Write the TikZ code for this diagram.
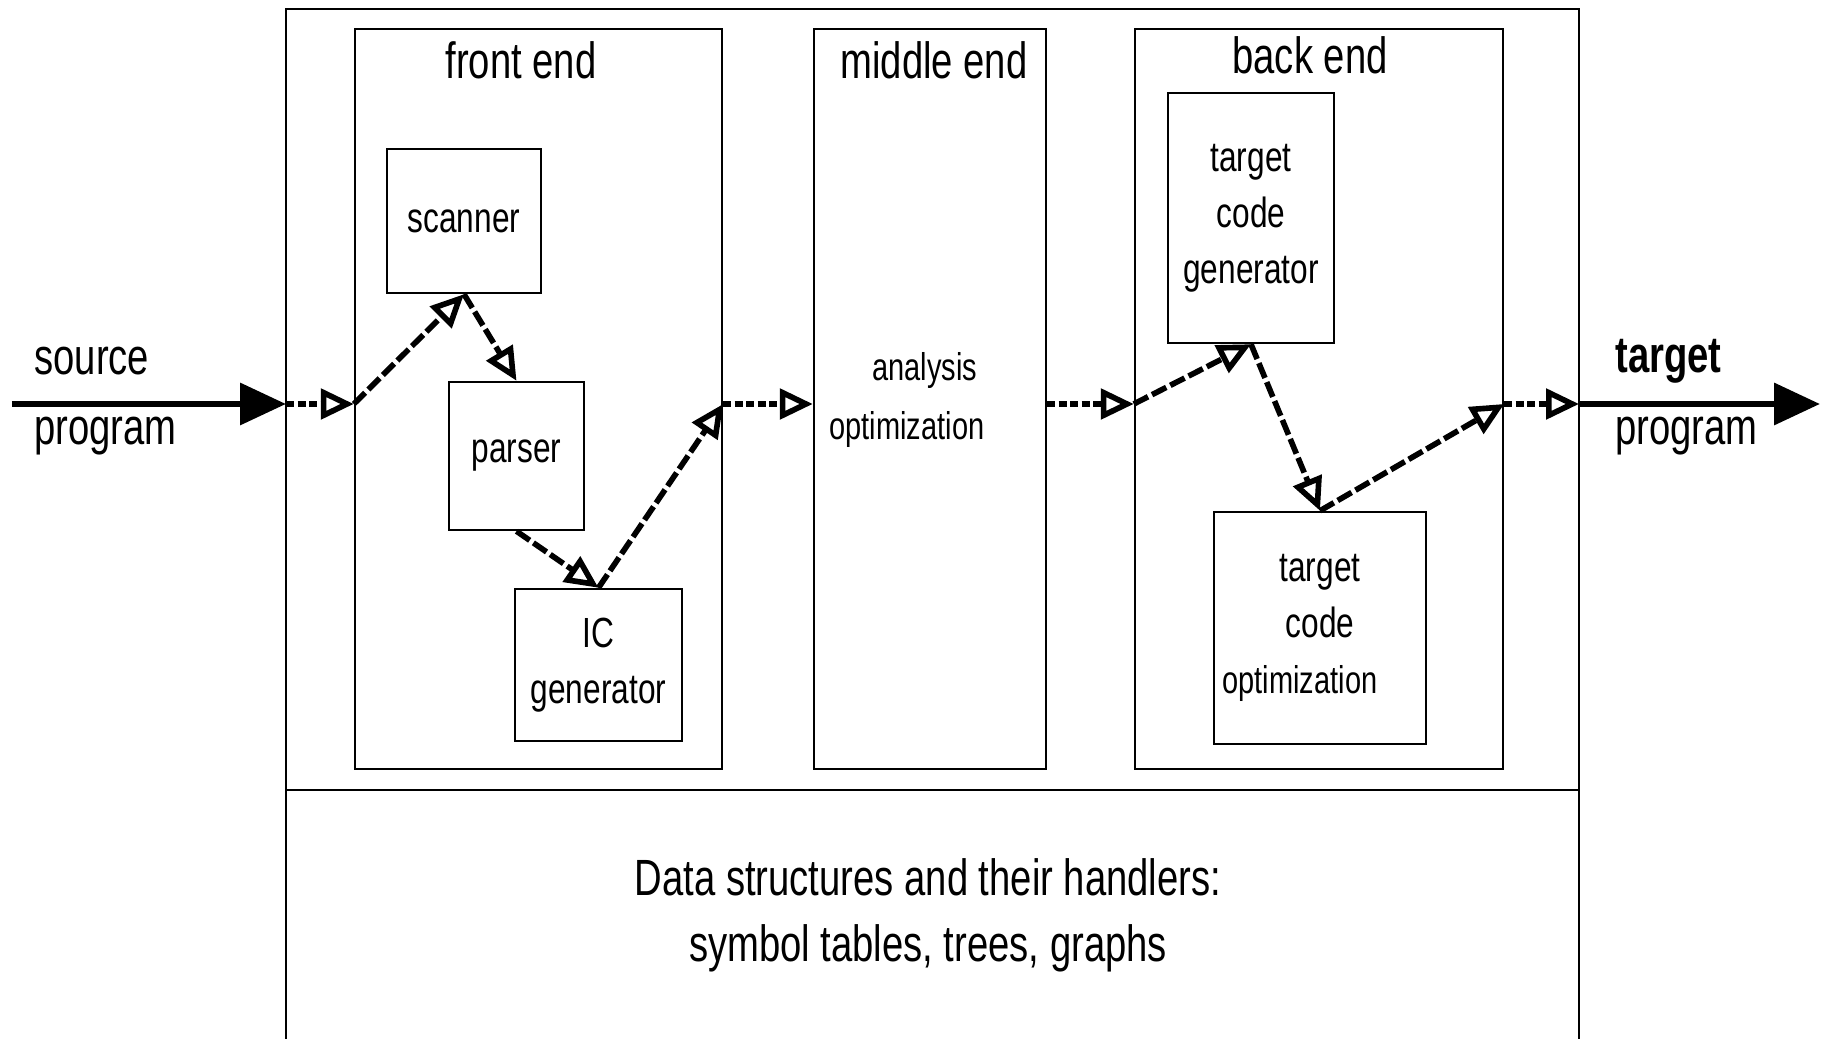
\documentclass[tikz,border=0pt]{standalone}
\usepackage{fontspec}
\setmainfont{Liberation Sans}[FakeStretch = 0.75]
\usepackage{tikz}
\usetikzlibrary{arrows.meta}

\tikzset{
	frame/.style = {line width = 0.8pt},
	stage/.style = {draw, line width = 0.7pt, inner sep = 0pt, align = center},
	title/.style = {font = \fontsize{14.5}{17}\selectfont},
	part/.style = {font = \fontsize{12}{16}\selectfont},
	small/.style = {font = \fontsize{11}{16}\selectfont},
	pass/.style = {line width = 1.6pt, dash pattern = on 1.6mm off 0.45mm, -{Triangle[open, length = 3.3mm, width = 3mm]}},
	hop/.style = {line width = 1.6pt, dash pattern = on 0.8mm off 0.35mm, -{Triangle[open, length = 3.3mm, width = 3mm]}},
	io/.style = {line width = 1.9pt, -{Triangle[length = 4.6mm, width = 4.1mm]}}
}

\begin{document}
\begin{tikzpicture}
	\useasboundingbox (0, 0) rectangle (18.24, 10.39);
	\draw[frame] (2.86, 0) -- (2.86, 10.30) -- (15.79, 10.30) -- (15.79, 0);
	\draw[frame] (2.86, 2.49) -- (15.79, 2.49);

	\node[stage, minimum width = 3.67cm, minimum height = 7.40cm] (front) at (5.385, 6.40) {};
	\node[stage, minimum width = 2.32cm, minimum height = 7.40cm] (middle) at (9.30, 6.40) {};
	\node[stage, minimum width = 3.68cm, minimum height = 7.40cm] (back) at (13.19, 6.40) {};
	\node[title] (fronttitle) at (5.21, 9.79) {front end};
	\node[title] (middletitle) at (9.34, 9.79) {middle end};
	\node[title] (backtitle) at (13.10, 9.84) {back end};

	\node[stage, part, minimum width = 1.54cm, minimum height = 1.44cm] (scanner) at (4.64, 8.18) {scanner};
	\node[stage, part, minimum width = 1.35cm, minimum height = 1.48cm] (parser) at (5.165, 5.83) {parser};
	\node[stage, part, minimum width = 1.67cm, minimum height = 1.52cm] (icgen) at (5.985, 3.74) {IC\\generator};
	\node[stage, part, minimum width = 1.66cm, minimum height = 2.50cm] (tcgen) at (12.51, 8.21) {target\\code\\generator};
	\node[stage, part, minimum width = 2.12cm, minimum height = 2.32cm] (tcopt) at (13.20, 4.11) {target\\code\\{\fontsize{11}{16}\selectfont optimization\hspace*{0.4cm}}};

	\node[small] (analysis) at (9.25, 6.68) {analysis};
	\node[small] (optim) at (9.07, 6.09) {optimization};

	\node[title, align = center, font = \fontsize{14.5}{18.7}\selectfont] (datatext) at (9.28, 1.24) {Data structures and their handlers:\\symbol tables, trees, graphs};

	\node[title, anchor = west] (srctop) at (0.22, 6.78) {source};
	\node[title, anchor = west] (srcbot) at (0.22, 6.03) {program};
	\node[title, anchor = west, font = \fontsize{14.5}{17}\selectfont\bfseries] (tgttop) at (16.03, 6.78) {target};
	\node[title, anchor = west] (tgtbot) at (16.03, 6.03) {program};

	\coordinate (srcstart) at (0.12, 6.35);
	\coordinate (srcin) at (2.86, 6.35);
	\coordinate (frontin) at (front.west |- srcin);
	\coordinate (frontout) at (front.east |- srcin);
	\coordinate (middlein) at (middle.west |- srcin);
	\coordinate (middleout) at (middle.east |- srcin);
	\coordinate (backin) at (back.west |- srcin);
	\coordinate (backout) at (back.east |- srcin);
	\coordinate (tgtout) at (15.79, 6.35);
	\coordinate (tgtend) at (18.20, 6.35);

	\draw[io] (srcstart) -- (srcin);
	\draw[hop] (srcin) -- (frontin);
	\draw[pass] (frontin) -- (scanner.south);
	\draw[pass] (scanner.south) -- (parser.north);
	\draw[pass] (parser.south) -- (icgen.north);
	\draw[pass] (icgen.north) -- (frontout);
	\draw[hop] (frontout) -- (middlein);
	\draw[hop] (middleout) -- (backin);
	\draw[pass] (backin) -- (tcgen.south);
	\draw[pass] (tcgen.south) -- (tcopt.north);
	\draw[pass] (tcopt.north) -- (backout);
	\draw[hop] (backout) -- (tgtout);
	\draw[io] (tgtout) -- (tgtend);
\end{tikzpicture}
\end{document}
